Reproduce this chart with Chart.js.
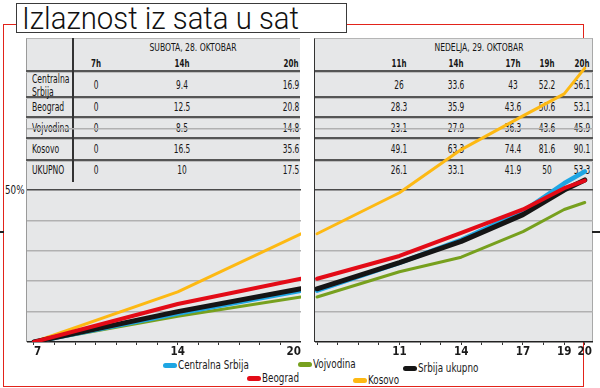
<!DOCTYPE html>
<html><head><meta charset="utf-8">
<script src="https://cdn.jsdelivr.net/npm/chart.js@4"></script>
<style>
body{margin:0;width:600px;height:388px;position:relative;overflow:hidden;background:#fff;font-family:"DejaVu Sans Condensed","DejaVu Sans",sans-serif;color:#1a1a1a}
#frame{position:absolute;left:3px;top:24px;width:579px;height:361px;border:1.5px solid #e2231a;}
#title{position:absolute;left:16px;top:3px;width:331px;height:30px;border:1px solid #3a3a3a;background:#fff;box-sizing:border-box;overflow:hidden}
#title span{position:absolute;left:5px;top:-3px;font-family:Roboto,"DejaVu Sans",sans-serif;font-weight:300;font-size:32px;line-height:34px;white-space:nowrap;color:#111;transform-origin:0 50%;display:inline-block}
.panel{position:absolute;top:38px;height:304px;background:#e6e7e8;border-top:1px solid #b5b5b5;box-sizing:border-box}
.t{position:absolute;line-height:14px;height:14px;white-space:nowrap;font-size:11.5px;transform-origin:0 50%;color:#161616}
.c{transform-origin:50% 50%}
.sep{position:absolute;height:2px;background:#555;border-bottom:1px solid #bdbdbd}
.lg{position:absolute;font-size:11.5px;line-height:14px;white-space:nowrap;transform:scaleX(0.85);transform-origin:0 50%}
.sw{position:absolute;width:14px;height:5px;border-radius:3px}
canvas{position:absolute}
</style>
</head><body>
<div id="frame"></div>
<div id="title"><span id="ttl">Izlaznost iz sata u sat</span></div>
<div class="panel" id="p1" style="left:26px;width:274px;border-left:1px solid #9a9a9a"></div>
<div class="panel" id="p2" style="left:314px;width:279px;border-right:1px solid #a8a8a8;border-left:1.5px solid #333"></div>
<div id="tables"></div>
<div class="t" style="left:5px;top:183px;font-size:11.5px;transform:scaleX(0.85)">50%</div>
<div style="position:absolute;left:0;top:231px;width:4px;height:1.5px;background:#222"></div>
<div style="position:absolute;left:592px;top:231px;width:8px;height:1.5px;background:#222"></div>
<div id="legend"></div>
<canvas id="c1" width="274" height="322" style="left:27px;top:38px"></canvas>
<canvas id="c2" width="278" height="322" style="left:315px;top:38px"></canvas>
<script>
// ---- data ----
const satHours = [7, 14, 20];
const sunHours = [11, 14, 17, 19, 20];
const satTitle = "SUBOTA, 28. OKTOBAR";
const sunTitle = "NEDELJA, 29. OKTOBAR";
const rowLabels = [["Centralna", "Srbija"], ["Beograd"], ["Vojvodina"], ["Kosovo"], ["UKUPNO"]];
const seriesNames = ["Centralna Srbija", "Beograd", "Vojvodina", "Kosovo", "Srbija ukupno"];
const centralnaSat = [0, 9.4, 16.9];
const centralnaSun = [26, 33.6, 43, 52.2, 56.1];
const beogradSat = [0, 12.5, 20.8];
const beogradSun = [28.3, 35.9, 43.6, 50.6, 53.1];
const vojvodinaSat = [0, 8.5, 14.8];
const vojvodinaSun = [23.1, 27.9, 36.3, 43.6, 45.9];
const kosovoSat = [0, 16.5, 35.6];
const kosovoSun = [49.1, 63.3, 74.4, 81.6, 90.1];
const ukupnoSat = [0, 10, 17.5];
const ukupnoSun = [26.1, 33.1, 41.9, 50, 53.3];
const leftTickLabels = [7, 14, 20];
const rightTickLabels = [11, 14, 17, 19, 20];

// ---- styling ----
const colors = ["#1ea6e3", "#e30b17", "#77a01e", "#fdb913", "#151515"];
const widths = [4.5, 4, 3, 3, 5];
const orders = [3, 1, 4, 5, 2];
const satSeries = [centralnaSat, beogradSat, vojvodinaSat, kosovoSat, ukupnoSat];
const sunSeries = [centralnaSun, beogradSun, vojvodinaSun, kosovoSun, ukupnoSun];

// title fit
const ttl = document.getElementById('ttl');
ttl.style.transform = 'scaleX(' + (277 / ttl.getBoundingClientRect().width) + ')';

// ---- tables (HTML, under the chart canvases) ----
const T = document.getElementById('tables');
function txt(s, x, y, centered, k, extra) {
  const d = document.createElement('div');
  d.className = 't' + (centered ? ' c' : '');
  d.textContent = s;
  d.style.left = x + 'px'; d.style.top = (y - 7) + 'px';
  d.style.transform = (centered ? 'translateX(-50%) ' : '') + 'scaleX(' + k + ')';
  if (extra) Object.assign(d.style, extra);
  T.appendChild(d);
}
function sep(x1, x2, y) {
  const d = document.createElement('div');
  d.className = 'sep';
  d.style.left = x1 + 'px'; d.style.width = (x2 - x1) + 'px'; d.style.top = (y - 1) + 'px';
  T.appendChild(d);
}
const rowY = [85, 107, 128, 149, 170];
[71, 97, 117, 138, 160].forEach(y => { sep(26, 300, y); sep(315, 593, y); });
const vl = document.createElement('div');
Object.assign(vl.style, {position: 'absolute', left: '72px', top: '38px', width: '1.5px', height: '144px', background: '#333'});
T.appendChild(vl);
txt(satTitle, 193, 48, true, 0.85, {fontSize: '10px'});
txt(sunTitle, 479, 48, true, 0.85, {fontSize: '10px'});
const satColX = [96, 182, 291];
const sunColX = [399, 456, 513, 547, 582];
satHours.forEach((h, i) => txt(h + 'h', satColX[i], 63, true, 0.75, {fontWeight: 'bold', fontSize: '10.5px'}));
sunHours.forEach((h, i) => txt(h + 'h', sunColX[i], 63, true, 0.75, {fontWeight: 'bold', fontSize: '10.5px'}));
rowLabels.forEach((lab, r) => {
  if (lab.length === 2) { txt(lab[0], 32, rowY[r] - 6, false, 0.74); txt(lab[1], 32, rowY[r] + 7, false, 0.74); }
  else txt(lab[0], 32, rowY[r], false, 0.74);
  satSeries[r].forEach((v, i) => txt(String(v), satColX[i], rowY[r], true, 0.72));
  sunSeries[r].forEach((v, i) => txt(String(v), sunColX[i], rowY[r], true, 0.72));
});

// ---- legend ----
const L = document.getElementById('legend');
const legPos = [[163, 365], [247, 378], [298, 364], [353, 380], [403, 368]];
seriesNames.forEach((n, i) => {
  const s = document.createElement('div'); s.className = 'sw';
  Object.assign(s.style, {left: legPos[i][0] + 'px', top: (legPos[i][1] - 2) + 'px', background: colors[i]});
  L.appendChild(s);
  const t = document.createElement('div'); t.className = 'lg'; t.textContent = n;
  Object.assign(t.style, {left: (legPos[i][0] + 15) + 'px', top: (legPos[i][1] - 7) + 'px'});
  L.appendChild(t);
});

// ---- charts ----
Chart.defaults.font.family = '"DejaVu Sans Condensed","DejaVu Sans",sans-serif';
function gridColor(ctx) {
  const v = ctx.tick && ctx.tick.value;
  if (v === 50) return '#4a4a4a';
  if (v === 10 || v === 20 || v === 30 || v === 40 || v === 70) return '#b1b1b1';
  return 'rgba(0,0,0,0)';
}
function makeChart(id, xs, seriesArr, xMin, xMax, labelsShown, align) {
  const datasets = seriesArr.map((vals, i) => ({
    label: seriesNames[i],
    data: vals.map((v, j) => ({x: xs[j], y: v})),
    borderColor: colors[i], borderWidth: widths[i], order: orders[i],
    pointRadius: 0, tension: 0, borderCapStyle: 'round', borderJoinStyle: 'round', fill: false
  }));
  return new Chart(document.getElementById(id), {
    type: 'line',
    data: {datasets},
    options: {
      responsive: false, animation: false, events: [],
      layout: {padding: 0, autoPadding: false},
      plugins: {legend: {display: false}, tooltip: {enabled: false}},
      scales: {
        x: {
          type: 'linear', min: xMin, max: xMax,
          afterBuildTicks: s => { const t = []; for (let h = 7; h <= 20; h++) t.push({value: h}); s.ticks = t; },
          afterFit: s => { s.height = 18; },
          ticks: {
            autoSkip: false, maxRotation: 0, padding: 0, align: align, color: '#1a1a1a',
            font: {size: 11.5, weight: 'bold'},
            callback: v => labelsShown.includes(v) ? String(v) : ''
          },
          grid: {drawOnChartArea: false, drawTicks: true, tickLength: 3, color: '#333', lineWidth: 1},
          border: {display: true, color: '#222', width: 1.5}
        },
        y: {
          min: 0, max: 100,
          afterFit: s => { s.width = 0; },
          ticks: {display: false, stepSize: 10},
          grid: {color: gridColor, lineWidth: 1.5, drawTicks: false},
          border: {display: false}
        }
      }
    }
  });
}
const sunData = satSeries.map((s, i) => [s[s.length - 1]].concat(sunSeries[i]));
makeChart('c1', satHours, satSeries, 6.66, 20, leftTickLabels, 'inner');
makeChart('c2', [7].concat(sunHours), sunData, 6.9, 20.4, rightTickLabels, 'center');
</script>
</body></html>
